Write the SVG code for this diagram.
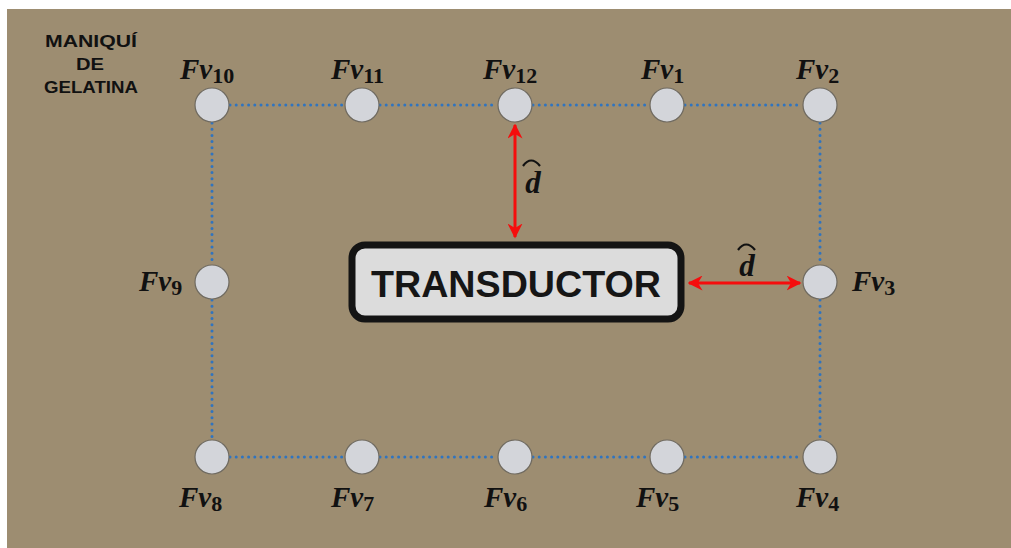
<svg xmlns="http://www.w3.org/2000/svg" width="1011" height="548" viewBox="0 0 1011 548">
<style>
.bg{fill:#fff}
.panel{fill:#9d8d71}
.node{fill:#d3d5da;stroke:#6f6a60;stroke-width:1.2}
.dot{fill:none;stroke:#2f74c0;stroke-width:3;stroke-linecap:round;stroke-dasharray:0 6.2}
.lbl{font-family:"Liberation Serif",serif;font-weight:bold;font-style:italic;font-size:29px;fill:#111}
.sub{font-family:"Liberation Serif",serif;font-weight:bold;font-style:normal;font-size:22px}
.title{font-family:"Liberation Sans",sans-serif;font-weight:bold;font-size:17px;fill:#111;text-anchor:middle}
.red{stroke:#f50d0d;stroke-width:3;fill:none}
.dh{font-family:"Liberation Serif",serif;font-weight:bold;font-style:italic;font-size:31px;fill:#111;text-anchor:middle}
.hat{fill:none;stroke:#111;stroke-width:2.2}
</style>
<defs>
<marker id="ah" viewBox="0 0 10 10" refX="9" refY="5" markerWidth="5" markerHeight="5" orient="auto-start-reverse" markerUnits="strokeWidth">
<path d="M0,0 L10,5 L0,10 L3,5 z" fill="#f50d0d"/>
</marker>
</defs>
<rect class="bg" x="0" y="0" width="1011" height="548"/>
<rect class="panel" x="7" y="9" width="1004" height="539"/>
<g id="title">
<text class="title" x="91" y="47" textLength="92" lengthAdjust="spacingAndGlyphs">MANIQUÍ</text>
<text class="title" x="90" y="70" textLength="28" lengthAdjust="spacingAndGlyphs">DE</text>
<text class="title" x="91" y="93" textLength="94" lengthAdjust="spacingAndGlyphs">GELATINA</text>
</g>
<g id="connectors">
<path class="dot" d="M230 105 H345 M380 105 H497 M533 105 H649 M685 105 H802"/>
<path class="dot" d="M230 457 H345 M380 457 H497 M533 457 H649 M685 457 H802"/>
<path class="dot" d="M212 123 V264 M212 300 V439"/>
<path class="dot" d="M820 123 V264 M820 300 V439"/>
<line class="red" x1="515" y1="125" x2="515" y2="237" marker-start="url(#ah)" marker-end="url(#ah)"/>
<line class="red" x1="689" y1="283" x2="800" y2="283" marker-start="url(#ah)" marker-end="url(#ah)"/>
<text class="dh" x="533" y="193">d</text>
<path class="hat" d="M523 166 Q531 155 540 166"/>
<text class="dh" x="747" y="276">d</text>
<path class="hat" d="M738 250 Q746 239 755 250"/>
</g>
<g id="transductor">
<rect x="352" y="245" width="329" height="74" rx="13" fill="#dcdcdc" stroke="#141414" stroke-width="7"/>
<text x="516" y="297" font-family="'Liberation Sans',sans-serif" font-weight="bold" font-size="36" fill="#161616" text-anchor="middle" textLength="290" lengthAdjust="spacingAndGlyphs">TRANSDUCTOR</text>
</g>
<g id="fv10"><circle class="node" cx="212" cy="105" r="17"/><text class="lbl" x="180" y="79">Fv<tspan class="sub" dy="4">10</tspan></text></g>
<g id="fv11"><circle class="node" cx="362" cy="105" r="17"/><text class="lbl" x="331" y="79">Fv<tspan class="sub" dy="4">11</tspan></text></g>
<g id="fv12"><circle class="node" cx="515" cy="105" r="17"/><text class="lbl" x="483" y="79">Fv<tspan class="sub" dy="4">12</tspan></text></g>
<g id="fv1"><circle class="node" cx="667" cy="105" r="17"/><text class="lbl" x="641" y="79">Fv<tspan class="sub" dy="4">1</tspan></text></g>
<g id="fv2"><circle class="node" cx="820" cy="105" r="17"/><text class="lbl" x="796" y="79">Fv<tspan class="sub" dy="4">2</tspan></text></g>
<g id="fv9"><circle class="node" cx="212" cy="282" r="17"/><text class="lbl" x="139" y="291">Fv<tspan class="sub" dy="4">9</tspan></text></g>
<g id="fv3"><circle class="node" cx="820" cy="282" r="17"/><text class="lbl" x="852" y="291">Fv<tspan class="sub" dy="4">3</tspan></text></g>
<g id="fv8"><circle class="node" cx="212" cy="457" r="17"/><text class="lbl" x="179" y="507">Fv<tspan class="sub" dy="4">8</tspan></text></g>
<g id="fv7"><circle class="node" cx="362" cy="457" r="17"/><text class="lbl" x="331" y="507">Fv<tspan class="sub" dy="4">7</tspan></text></g>
<g id="fv6"><circle class="node" cx="515" cy="457" r="17"/><text class="lbl" x="484" y="507">Fv<tspan class="sub" dy="4">6</tspan></text></g>
<g id="fv5"><circle class="node" cx="667" cy="457" r="17"/><text class="lbl" x="636" y="507">Fv<tspan class="sub" dy="4">5</tspan></text></g>
<g id="fv4"><circle class="node" cx="820" cy="457" r="17"/><text class="lbl" x="796" y="507">Fv<tspan class="sub" dy="4">4</tspan></text></g>
</svg>
